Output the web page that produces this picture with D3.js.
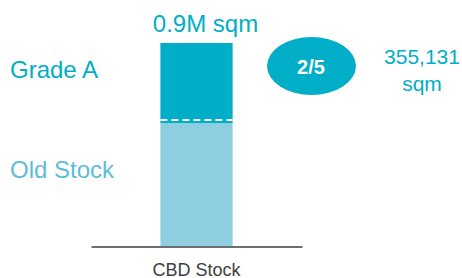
<!DOCTYPE html>
<html>
<head>
<meta charset="utf-8">
<script src="https://cdn.jsdelivr.net/npm/d3@7"></script>
<style>
  body { margin: 0; background: #fff; }
  text { font-family: "Liberation Sans", Arial, sans-serif; }
</style>
</head>
<body>
<div id="chart"></div>
<script>
// data
var categories = ["CBD Stock"];
var segments = ["Old Stock", "Grade A"];
var oldStock = [544869];
var gradeA = [355131];
var totalLabel = ["0.9M sqm"];
var gradeALabel = ["355,131", "sqm"];
var shareLabel = "2/5";

var width = 462, height = 278;
var colors = { "Grade A": "#00AEC7", "Old Stock": "#8FCEE0" };
var textColors = { "Grade A": "#00AEC7", "Old Stock": "#5DBCD8" };

var svg = d3.select("#chart")
  .append("svg")
  .attr("width", width)
  .attr("height", height);

var x = d3.scaleBand()
  .domain(categories)
  .range([91, 302])
  .padding(0.49);

var y = d3.scaleLinear()
  .domain([0, 900000])
  .range([246, 43]);

// stacked data
var rows = categories.map(function (c, i) {
  return { cat: c, "Old Stock": oldStock[i], "Grade A": gradeA[i] };
});
var stacked = d3.stack().keys(segments)(rows);

svg.append("g")
  .selectAll("g")
  .data(stacked)
  .enter()
  .append("g")
  .attr("fill", function (d) { return colors[d.key]; })
  .selectAll("rect")
  .data(function (d) { return d; })
  .enter()
  .append("rect")
  .attr("x", function (d) { return x(d.data.cat); })
  .attr("y", function (d) { return y(d[1]); })
  .attr("width", x.bandwidth())
  .attr("height", function (d) { return y(d[0]) - y(d[1]); });

// dashed divider just above the old stock
var split = y(oldStock[0]);
svg.append("line")
  .attr("x1", x(categories[0]))
  .attr("x2", x(categories[0]) + x.bandwidth())
  .attr("y1", split - 3)
  .attr("y2", split - 3)
  .attr("stroke", "#fff")
  .attr("stroke-width", 2)
  .attr("stroke-dasharray", "7,4");

// axis
var axis = svg.append("g")
  .attr("transform", "translate(0,246.5)")
  .call(d3.axisBottom(x).tickSize(0).tickSizeOuter(0).tickPadding(16.5));
axis.select(".domain").attr("stroke", "#6E6E6E").attr("stroke-width", 2);
axis.selectAll("text")
  .attr("fill", "#404040")
  .style("font-size", "18px")
  .style("font-family", "'Liberation Sans', Arial, sans-serif");

// total label
svg.append("text")
  .attr("x", x(categories[0]) + x.bandwidth() / 2 + 9)
  .attr("y", 32)
  .attr("text-anchor", "middle")
  .attr("fill", "#00AEC7")
  .style("font-size", "24px")
  .text(totalLabel[0]);

// segment labels on the left
svg.append("text")
  .attr("x", 10).attr("y", 78)
  .attr("fill", textColors["Grade A"])
  .style("font-size", "24px")
  .text("Grade A");

svg.append("text")
  .attr("x", 10).attr("y", 178)
  .attr("fill", textColors["Old Stock"])
  .style("font-size", "24px")
  .text("Old Stock");

// share bubble
svg.append("ellipse")
  .attr("cx", 311.5).attr("cy", 66)
  .attr("rx", 44.5).attr("ry", 29)
  .attr("fill", "#00AEC7");

svg.append("text")
  .attr("x", 311).attr("y", 74)
  .attr("text-anchor", "middle")
  .attr("fill", "#fff")
  .style("font-size", "20px")
  .style("font-weight", "bold")
  .text(shareLabel);

// grade A figure
svg.append("g")
  .selectAll("text")
  .data(gradeALabel)
  .enter()
  .append("text")
  .attr("x", 422)
  .attr("y", function (d, i) { return 64 + i * 27; })
  .attr("text-anchor", "middle")
  .attr("fill", "#00AEC7")
  .style("font-size", "21px")
  .text(function (d) { return d; });
</script>
</body>
</html>
